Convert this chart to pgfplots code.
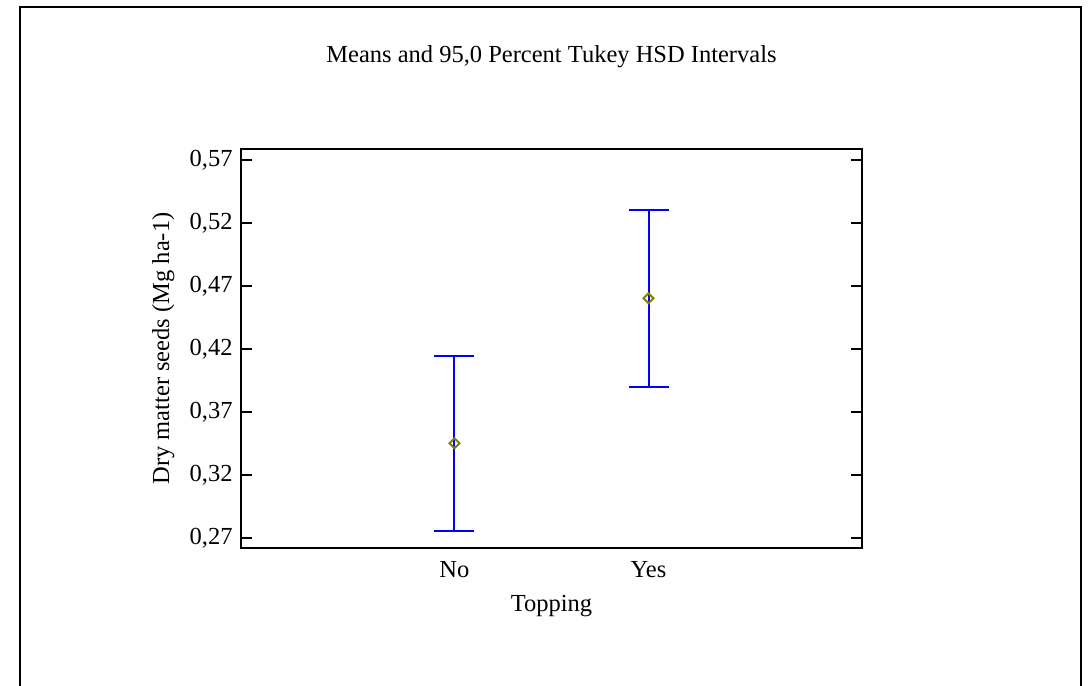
\documentclass[border=0pt]{standalone}
\usepackage{fontspec}
\setmainfont{Liberation Serif}
\usepackage{pgfplots}
\pgfplotsset{compat=1.18}
\definecolor{barblue}{RGB}{0,0,255}
\definecolor{meanolive}{RGB}{128,128,0}
\begin{document}
\fontsize{12.25pt}{14pt}\selectfont
\begin{tikzpicture}
\useasboundingbox (0,0) rectangle (544.5pt,343pt);
\clip (0,0) rectangle (544.5pt,343pt);
\draw[line width=1pt] (10pt,-10pt) -- (10pt,339.5pt) -- (540.5pt,339.5pt) -- (540.5pt,-10pt);
\begin{axis}[
  at={(120.5pt,69pt)}, anchor=south west,
  scale only axis, width=310.5pt, height=199.5pt,
  xmin=-1.1, xmax=2.1, ymin=0.2621, ymax=0.5787,
  axis line style={line width=1pt, black},
  xtick={0,1}, xticklabels={No,Yes},
  x tick style={draw=none},
  ytick={0.27,0.32,0.37,0.42,0.47,0.52,0.57},
  tick align=inside, ytick pos=both, yticklabel pos=left, xtick pos=bottom,
  major tick length=5.5pt,
  y tick style={line width=1pt, black},
  /pgf/number format/assume math mode=true,
  y tick label style={/pgf/number format/fixed, /pgf/number format/fixed zerofill, /pgf/number format/precision=2, /pgf/number format/use comma, inner sep=0pt, anchor=east, xshift=-4pt},
  x tick label style={anchor=base, yshift=-15pt},
  title={Means and 95,0 Percent Tukey HSD Intervals},
  title style={at={(axis description cs:0.5,1.1855)}, anchor=base},
  xlabel={Topping},
  xlabel style={at={(axis description cs:0.5,-0.1604)}, anchor=base},
  ylabel={Dry matter seeds (Mg ha-1)},
  ylabel style={at={(axis description cs:-0.1159,0.5)}, anchor=base},
]
\addplot[only marks, mark=square, mark size=1.77pt,
  mark options={rotate=45, draw=meanolive, line width=0.95pt, fill=none},
  error bars/.cd, y dir=both, y explicit, error mark=|,
  error bar style={barblue, line width=1pt},
  error mark options={barblue, line width=1pt, mark size=10pt}]
  coordinates {(0,0.3452) +- (0,0.0694) (1,0.4603) +- (0,0.0703)};
\end{axis}
\end{tikzpicture}
\end{document}
